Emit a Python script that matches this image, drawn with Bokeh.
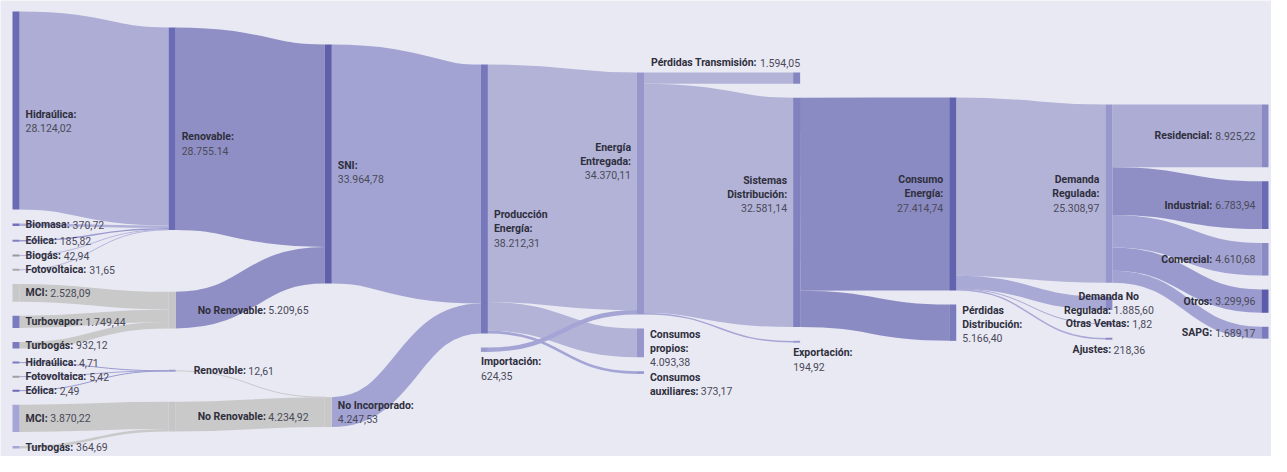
import unicodedata
from bokeh.plotting import figure
from bokeh.models import ColumnDataSource, Range1d
from bokeh.core.properties import value
from bokeh.embed import file_html
from bokeh.resources import INLINE

# ---------------- data ----------------
node_names = [
    "Hidraúlica", "Biomasa", "Eólica", "Biogás", "Fotovoltaica", "MCI", "Turbovapor", "Turbogás",
    "Hidraúlica", "Fotovoltaica", "Eólica", "MCI", "Turbogás",
    "Renovable", "No Renovable", "Renovable", "No Renovable",
    "SNI", "No Incorporado",
    "Producción Energía", "Importación",
    "Energía Entregada", "Consumos propios", "Consumos auxiliares",
    "Pérdidas Transmisión", "Sistemas Distribución", "Exportación",
    "Consumo Energía", "Pérdidas Distribución",
    "Demanda Regulada", "Demanda No Regulada", "Otras Ventas", "Ajustes",
    "Residencial", "Industrial", "Comercial", "Otros", "SAPG",
]
node_value_labels = [
    "28.124,02", "370,72", "185,82", "42,94", "31,65", "2.528,09", "1.749,44", "932,12",
    "4,71", "5,42", "2,49", "3.870,22", "364,69",
    "28.755.14", "5.209,65", "12,61", "4.234,92",
    "33.964,78", "4.247,53",
    "38.212,31", "624,35",
    "34.370,11", "4.093,38", "373,17",
    "1.594,05", "32.581,14", "194,92",
    "27.414,74", "5.166,40",
    "25.308,97", "1.885,60", "1,82", "218,36",
    "8.925,22", "6.783,94", "4.610,68", "3.299,96", "1.689,17",
]
link_source = [0, 1, 2, 3, 4, 5, 6, 7, 8, 9, 10, 11, 12, 13, 14, 15, 16, 17, 18,
               19, 19, 19, 20, 21, 21, 21, 25, 25, 27, 27, 27, 27, 29, 29, 29, 29, 29]
link_target = [13, 13, 13, 13, 13, 14, 14, 14, 15, 15, 15, 16, 16, 17, 17, 18, 18, 19, 19,
               21, 22, 23, 21, 24, 25, 26, 27, 28, 29, 30, 31, 32, 33, 34, 35, 36, 37]
link_value = [28124.02, 370.72, 185.82, 42.94, 31.65, 2528.09, 1749.44, 932.12,
              4.71, 5.42, 2.49, 3870.22, 364.69, 28755.14, 5209.65, 12.61, 4234.92,
              33964.78, 4247.53, 33745.76, 4093.38, 373.17, 624.35,
              1594.05, 32581.14, 194.92, 27414.74, 5166.40,
              25308.97, 1885.60, 1.82, 218.36,
              8925.22, 6783.94, 4610.68, 3299.96, 1689.17]

# label wording (bold part, with line breaks) and whether the value follows on the same line
label_name_text = [
    "Hidraúlica:", "Biomasa:", "Eólica:", "Biogás:", "Fotovoltaica:", "MCI:", "Turbovapor:", "Turbogás:",
    "Hidraúlica:", "Fotovoltaica:", "Eólica:", "MCI:", "Turbogás:",
    "Renovable:", "No Renovable:", "Renovable:", "No Renovable:",
    "SNI:", "No Incorporado:",
    "Producción\nEnergía:", "Importación:",
    "Energía\nEntregada:", "Consumos\npropios:", "Consumos\nauxiliares:",
    "Pérdidas Transmisión:", "Sistemas\nDistribución:", "Exportación:",
    "Consumo\nEnergía:", "Pérdidas\nDistribución:",
    "Demanda\nRegulada:", "Demanda No\nRegulada:", "Otras Ventas:", "Ajustes:",
    "Residencial:", "Industrial:", "Comercial:", "Otros:", "SAPG:",
]
label_value_inline = [
    False, True, True, True, True, True, True, True, True, True, True, True, True,
    False, True, True, True, False, False, False, False,
    False, False, True, True, False, False, False, False,
    False, True, True, True, True, True, True, True, True,
]

# ---------------- styles ----------------
node_colors = [
    "#6b6bb5", "#7272b9", "#8080c0", "#9a9a9a", "#a8a8a8", "#c8c8c8", "#7b7bbf", "#7a7abd",
    "#7b7bbf", "#9f9f9f", "#6b6bb5", "#a6a6d6", "#a6a6d6",
    "#6b6bb5", "#c6c6c6", "#9a9ad2", "#c6c6c6",
    "#6060aa", "#c8c8c8",
    "#7777bb", "#9999cc",
    "#9797cc", "#9797cc", "#9797cc",
    "#8585c2", "#8181c0", "#9a9ad0",
    "#6262ae", "#7a7abd",
    "#9797cc", "#8a8ac5", "#8a8ac5", "#8a8ac5",
    "#8a8ac5", "#6b6bb5", "#8a8ac5", "#5c5caa", "#7a7abd",
]
link_colors = [
    "#adadd5", "#b0b0d8", "#9a9ad0", "#b5b5dc", "#b5b5dc",
    "#c9c9c9", "#c9c9c9", "#c9c9c9",
    "#9a9ad0", "#a5a5d5", "#9a9ad0",
    "#c9c9c9", "#c9c9c9",
    "#8f8fc5", "#8f8fc5", "#c9c9c9", "#c9c9c9",
    "#a3a3d3", "#a3a3d3",
    "#b3b3d8", "#b3b3d8", "#a5a5d5", "#a5a5d5",
    "#b3b3d8", "#b3b3d8", "#a5a5d5",
    "#8b8bc3", "#8b8bc3",
    "#b3b3d8", "#a9a9d6", "#a9a9d6", "#a9a9d6",
    "#acacd5", "#8f8fc6", "#a3a3d3", "#9a9acf", "#a3a3d3",
]
label_side = (["right"] * 20 + ["below"] +
              ["left", "right", "right", "above", "left", "below", "left", "right",
               "left", "center", "center", "belowc", "left", "left", "left", "left", "left"])
label_valign = ["middle"] * len(node_names)
for _i in (22, 23, 28):
    label_valign[_i] = "top"
# small label nudges (pixels)
label_dx = [0.0] * len(node_names)
label_dy = [0.0] * len(node_names)
for _i, _d in ((14, 16), (15, 12), (16, 16)):
    label_dx[_i] = _d
for _i, _d in ((0, 11), (13, 15), (17, 8), (19, 30), (21, -32), (25, -18)):
    label_dy[_i] = _d

BG = "#e9e9f4"
BOLD_COLOR = "#2f2f3c"
NORMAL_COLOR = "#4a4a58"
FONT = "Roboto"
FS = 10.5
LH = 14

W, H = 1271, 456
EX0, EX1, EY0, EY1 = 12, 1268, 11, 448
NODE_W = 7
PAD = 14
ITER = 6
# top inset of each column (layout margin), giving the stepped look of the original
COL_INSET = [0, 16, 33, 53, 61, 61, 86, 93, 93]


# ---------------- d3-sankey style layout (nodeAlign=center, nodeSort=null) ----------------
def sankey(n_nodes, src, tgt, val):
    nodes = [dict(index=i, sourceLinks=[], targetLinks=[], y0=None, y1=None) for i in range(n_nodes)]
    links = []
    for i, (s, t, v) in enumerate(zip(src, tgt, val)):
        l = dict(index=i, source=nodes[s], target=nodes[t], value=v, width=0)
        nodes[s]["sourceLinks"].append(l)
        nodes[t]["targetLinks"].append(l)
        links.append(l)
    for nd in nodes:
        nd["value"] = max(sum(l["value"] for l in nd["sourceLinks"]),
                          sum(l["value"] for l in nd["targetLinks"]))
    current = list(nodes)
    d = 0
    while current:
        nxt, seen = [], set()
        for nd in current:
            nd["depth"] = d
            for l in nd["sourceLinks"]:
                if l["target"]["index"] not in seen:
                    seen.add(l["target"]["index"])
                    nxt.append(l["target"])
        d += 1
        current = nxt
    ncol = max(nd["depth"] for nd in nodes) + 1
    kx = (EX1 - EX0 - NODE_W) / (ncol - 1)
    columns = [[] for _ in range(ncol)]
    for nd in nodes:
        if nd["targetLinks"]:
            a = nd["depth"]
        elif nd["sourceLinks"]:
            a = min(l["target"]["depth"] for l in nd["sourceLinks"]) - 1
        else:
            a = 0
        a = max(0, min(ncol - 1, a))
        nd["layer"] = a
        nd["x0"] = EX0 + a * kx
        nd["x1"] = nd["x0"] + NODE_W
        columns[a].append(nd)

    py = min(PAD, (EY1 - EY0) / (max(len(c) for c in columns) - 1))
    ctop = [EY0 + COL_INSET[k] for k in range(ncol)]

    def key_t(l):
        y = l["target"]["y0"]
        return (0 if y is None else y, l["index"])

    def key_s(l):
        y = l["source"]["y0"]
        return (0 if y is None else y, l["index"])

    ky = min((EY1 - EY0 - (len(c) - 1) * py) / sum(nd["value"] for nd in c) for c in columns)
    for ci, c in enumerate(columns):
        y = ctop[ci]
        for nd in c:
            nd["y0"] = y
            nd["y1"] = y + nd["value"] * ky
            y = nd["y1"] + py
            for l in nd["sourceLinks"]:
                l["width"] = l["value"] * ky
        y = max(0.0, (EY1 - y + py) / (len(c) + 1))
        for i, nd in enumerate(c):
            nd["y0"] += y * (i + 1)
            nd["y1"] += y * (i + 1)
        for nd in c:
            nd["sourceLinks"].sort(key=key_t)
            nd["targetLinks"].sort(key=key_s)

    def reorder_node_links(nd):
        for l in nd["targetLinks"]:
            l["source"]["sourceLinks"].sort(key=key_t)
        for l in nd["sourceLinks"]:
            l["target"]["targetLinks"].sort(key=key_s)

    def target_top(source, target):
        y = source["y0"] - (len(source["sourceLinks"]) - 1) * py / 2
        for l in source["sourceLinks"]:
            if l["target"] is target:
                break
            y += l["width"] + py
        for l in target["targetLinks"]:
            if l["source"] is source:
                break
            y -= l["width"]
        return y

    def source_top(source, target):
        y = target["y0"] - (len(target["targetLinks"]) - 1) * py / 2
        for l in target["targetLinks"]:
            if l["source"] is source:
                break
            y += l["width"] + py
        for l in source["sourceLinks"]:
            if l["target"] is target:
                break
            y -= l["width"]
        return y

    def ttb(c, y, i, alpha):
        while i < len(c):
            nd = c[i]
            dy = (y - nd["y0"]) * alpha
            if dy > 1e-6:
                nd["y0"] += dy
                nd["y1"] += dy
            y = nd["y1"] + py
            i += 1

    def btt(c, y, i, alpha):
        while i >= 0:
            nd = c[i]
            dy = (nd["y1"] - y) * alpha
            if dy > 1e-6:
                nd["y0"] -= dy
                nd["y1"] -= dy
            y = nd["y0"] - py
            i -= 1

    def resolve(c, top, alpha):
        i = len(c) >> 1
        subj = c[i]
        btt(c, subj["y0"] - py, i - 1, alpha)
        ttb(c, subj["y1"] + py, i + 1, alpha)
        btt(c, EY1, len(c) - 1, alpha)
        ttb(c, top, 0, alpha)

    for it in range(ITER):
        alpha = 0.99 ** it
        beta = max(1 - alpha, (it + 1) / ITER)
        for ci in range(ncol - 2, -1, -1):
            c = columns[ci]
            for source in c:
                y = w = 0
                for l in source["sourceLinks"]:
                    v = l["value"] * (l["target"]["layer"] - source["layer"])
                    y += source_top(source, l["target"]) * v
                    w += v
                if not w > 0:
                    continue
                dy = (y / w - source["y0"]) * alpha
                source["y0"] += dy
                source["y1"] += dy
                reorder_node_links(source)
            resolve(c, ctop[ci], beta)
        for ci in range(1, ncol):
            c = columns[ci]
            for target in c:
                y = w = 0
                for l in target["targetLinks"]:
                    v = l["value"] * (target["layer"] - l["source"]["layer"])
                    y += target_top(l["source"], target) * v
                    w += v
                if not w > 0:
                    continue
                dy = (y / w - target["y0"]) * alpha
                target["y0"] += dy
                target["y1"] += dy
                reorder_node_links(target)
            resolve(c, ctop[ci], beta)

    for nd in nodes:
        y0 = y1 = nd["y0"]
        for l in nd["sourceLinks"]:
            l["ly0"] = y0 + l["width"] / 2
            y0 += l["width"]
        for l in nd["targetLinks"]:
            l["ly1"] = y1 + l["width"] / 2
            y1 += l["width"]
    return nodes, links


nodes, links = sankey(len(node_names), link_source, link_target, link_value)

# ---------------- text width estimate (Roboto metrics, em/1000) ----------------
_UP = "ABCDEFGHIJKLMNOPQRSTUVWXYZ"
_LO = "abcdefghijklmnopqrstuvwxyz"
_REG = dict(zip(_UP, [652, 623, 651, 656, 568, 552, 681, 713, 272, 552, 626, 538, 873,
                      713, 688, 631, 688, 616, 593, 597, 648, 636, 887, 626, 600, 599]))
_REG.update(zip(_LO, [543, 561, 523, 564, 530, 347, 561, 551, 243, 239, 507, 243, 876,
                      552, 570, 561, 568, 338, 516, 327, 551, 484, 751, 497, 473, 497]))
_BOLD = dict(zip(_UP, [666, 637, 652, 656, 568, 552, 683, 714, 285, 553, 638, 540, 876,
                       712, 688, 643, 688, 633, 613, 614, 652, 651, 880, 634, 614, 604]))
_BOLD.update(zip(_LO, [544, 561, 523, 563, 531, 349, 565, 554, 250, 245, 524, 250, 876,
                       553, 570, 561, 563, 348, 516, 332, 553, 487, 749, 502, 487, 502]))
_REG.update({" ": 248, ".": 263, ",": 196, ":": 241, "-": 276})
_BOLD.update({" ": 244, ".": 270, ",": 222, ":": 258, "-": 276})
for _t in (_REG, _BOLD):
    _t.update({str(k): 562 for k in range(10)})


def tw(s, bold=False):
    t = _BOLD if bold else _REG
    tot = 0
    for ch in s:
        base = unicodedata.normalize("NFD", ch)[0]
        tot += t.get(base, 550)
    return tot * FS / 1000


SPACE = tw(" ", True) + 0.5

# ---------------- build sources ----------------
link_src = ColumnDataSource(dict(
    x0=[l["source"]["x1"] for l in links],
    y0=[l["ly0"] for l in links],
    x1=[l["target"]["x0"] for l in links],
    y1=[l["ly1"] for l in links],
    cx0=[(l["source"]["x1"] + l["target"]["x0"]) / 2 for l in links],
    cy0=[l["ly0"] for l in links],
    cx1=[(l["source"]["x1"] + l["target"]["x0"]) / 2 for l in links],
    cy1=[l["ly1"] for l in links],
    w=[max(1.0, l["width"]) for l in links],
    color=[link_colors[l["index"]] for l in links],
))

MIN_H = 2.0
node_top, node_bot = [], []
for nd in nodes:
    h = nd["y1"] - nd["y0"]
    if h < MIN_H:
        m = (nd["y0"] + nd["y1"]) / 2
        node_top.append(m - MIN_H / 2)
        node_bot.append(m + MIN_H / 2)
    else:
        node_top.append(nd["y0"])
        node_bot.append(nd["y1"])
node_src = ColumnDataSource(dict(
    left=[nd["x0"] for nd in nodes], right=[nd["x1"] for nd in nodes],
    top=node_top, bottom=node_bot, color=node_colors,
))

groups = {k: dict(x=[], y=[], text=[]) for k in ("bl", "br", "nl", "nr")}
for i, nd in enumerate(nodes):
    name_lines = label_name_text[i].split("\n")
    val = node_value_labels[i]
    lines = [(ln, "") for ln in name_lines]
    if label_value_inline[i]:
        lines[-1] = (name_lines[-1], val)
    else:
        lines.append(("", val))
    n = len(lines)
    side = label_side[i]
    t0, t1 = node_top[i], node_bot[i]
    if side in ("below", "belowc"):
        top = t1 + 3
    elif side == "above":
        top = t0 - 3 - n * LH
    elif label_valign[i] == "top":
        top = t0 - 1
    else:
        top = (t0 + t1) / 2 - n * LH / 2
    top += label_dy[i]
    for k, (b, nm) in enumerate(lines):
        y = top + (k + 0.5) * LH
        if side in ("right", "below", "center", "belowc"):
            if side == "right":
                ax = nd["x1"] + 6
            elif side == "below":
                ax = nd["x0"]
            else:
                total = tw(b, True) + (SPACE if b and nm else 0) + tw(nm)
                ax = (nd["x0"] + nd["x1"]) / 2 - total / 2
            ax += label_dx[i]
            if b:
                groups["bl"]["x"].append(ax)
                groups["bl"]["y"].append(y)
                groups["bl"]["text"].append(b)
            if nm:
                off = tw(b, True) + SPACE if b else 0
                groups["nl"]["x"].append(ax + off)
                groups["nl"]["y"].append(y)
                groups["nl"]["text"].append(nm)
        else:
            ax = (nd["x0"] - 6 if side == "left" else nd["x1"]) + label_dx[i]
            if nm:
                groups["nr"]["x"].append(ax)
                groups["nr"]["y"].append(y)
                groups["nr"]["text"].append(nm)
            if b:
                off = tw(nm) + SPACE if nm else 0
                groups["br"]["x"].append(ax - off)
                groups["br"]["y"].append(y)
                groups["br"]["text"].append(b)

# ---------------- figure ----------------
p = figure(width=W, height=H, output_backend="svg", toolbar_location=None,
           x_range=Range1d(0, W), y_range=Range1d(H, 0),
           x_axis_type=None, y_axis_type=None, min_border=0)
p.background_fill_color = BG
p.border_fill_color = BG
p.outline_line_color = None
p.xgrid.visible = False
p.ygrid.visible = False

p.bezier(x0="x0", y0="y0", x1="x1", y1="y1", cx0="cx0", cy0="cy0", cx1="cx1", cy1="cy1",
         line_color="color", line_width="w", line_cap="butt", source=link_src)
p.quad(left="left", right="right", top="top", bottom="bottom", fill_color="color",
       line_color=None, source=node_src)

for key, align, style, col in (("bl", "left", "bold", BOLD_COLOR), ("br", "right", "bold", BOLD_COLOR),
                               ("nl", "left", "normal", NORMAL_COLOR), ("nr", "right", "normal", NORMAL_COLOR)):
    p.text(x="x", y="y", text="text", source=ColumnDataSource(groups[key]),
           text_font=value(FONT), text_font_size=f"{FS}px", text_font_style=style,
           text_color=col, text_align=align, text_baseline="middle")

open("out.html", "w").write(file_html(p, INLINE))
